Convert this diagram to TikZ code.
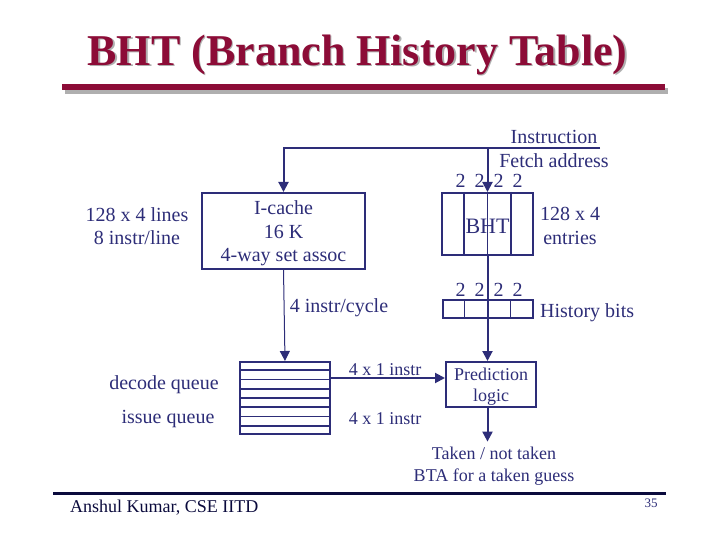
\documentclass[tikz,border=0pt]{standalone}
\usepackage{fontspec}
\setmainfont{Liberation Serif}
\usetikzlibrary{arrows.meta,calc}
\definecolor{ink}{RGB}{45,45,120}
\definecolor{titlered}{RGB}{140,12,55}
\definecolor{navy}{RGB}{10,10,60}
\definecolor{shadowgray}{RGB}{175,175,175}
\tikzset{
  txt/.style={text=ink, font=\fontsize{20}{23.5}\selectfont, inner sep=0pt, align=center},
  smalltxt/.style={text=ink, font=\fontsize{18}{22}\selectfont, inner sep=0pt, align=center},
  box/.style={draw=ink, line width=2pt, inner sep=0pt},
  arr/.style={-{Triangle[length=10pt,width=10pt]}, draw=ink, line width=2pt},
  thinarr/.style={-{Triangle[length=10pt,width=10pt]}, draw=ink, line width=1pt},
  conn/.style={draw=ink, line width=2pt},
  divider/.style={draw=ink, line width=1.6pt},
}
\begin{document}
\begin{tikzpicture}[x=1pt,y=-1pt]
\useasboundingbox (0,0) rectangle (720,540);
% title
\node[text=shadowgray, font=\fontsize{44}{50}\selectfont\bfseries, inner sep=0pt] (titleshadow) at (359,56) {BHT (Branch History Table)};
\node[text=titlered, font=\fontsize{44}{50}\selectfont\bfseries, inner sep=0pt] (title) at (357.5,54.5) {BHT (Branch History Table)};
\fill[shadowgray] (65,88) rectangle (668,94);
\fill[titlered] (62,84.5) rectangle (665,90.5);
% footer
\draw[navy, line width=3pt] (53,493) -- (666,493);
\node[text=navy, font=\fontsize{18}{20}\selectfont, anchor=west, inner sep=0pt] (author) at (70,507.5) {Anshul Kumar, CSE IITD};
\node[text=ink, font=\fontsize{13}{15}\selectfont, inner sep=0pt] (page) at (651,503.5) {35};

% boxes
\node[box, minimum width=163pt, minimum height=76pt] (icache) at (283.5,231) {};
\node[txt] (icachelabel) at (283.5,233.5) {I-cache\\16 K\\4-way set assoc};
\node[box, minimum width=91pt, minimum height=62pt] (bht) at (487.5,224) {};
\foreach \i in {1,2,3} {\draw[divider] ($(bht.north west)!\i/4!(bht.north east)$) -- ($(bht.south west)!\i/4!(bht.south east)$);}
\node[txt, font=\fontsize{22}{24}\selectfont] (bhtlabel) at (487.5,226) {BHT};
\node[box, minimum width=90pt, minimum height=18pt] (hist) at (487.5,309) {};
\foreach \i in {1,2,3} {\draw[divider] ($(hist.north west)!\i/4!(hist.north east)$) -- ($(hist.south west)!\i/4!(hist.south east)$);}
\node[box, minimum width=90pt, minimum height=72pt] (queue) at (285,398) {};
\foreach \i in {1,...,7} {\draw[divider] ($(queue.north west)!\i/8!(queue.south west)$) -- ($(queue.north east)!\i/8!(queue.south east)$);}
\node[box, minimum width=90pt, minimum height=45pt] (pred) at (491,384.5) {};
\node[smalltxt, font=\fontsize{18}{21}\selectfont] (predlabel) at (491,387) {Prediction\\logic};

% labels
\node[txt] (fetchlabel) at (554,149) {Instruction\\Fetch address};
\node[txt] (twostop) at (489,181) {2\hspace{9pt}2\hspace{9pt}2\hspace{9pt}2};
\node[txt] (entries) at (570,226) {128 x 4\\entries};
\node[txt] (twosmid) at (489,289.5) {2\hspace{9pt}2\hspace{9pt}2\hspace{9pt}2};
\node[txt, anchor=west] (histlabel) at (540,313) {History bits};
\node[txt] (cycle) at (339,307.5) {4 instr/cycle};
\node[txt] (lines) at (137,226) {128 x 4 lines\\8 instr/line};
\node[txt] (decode) at (164,385) {decode queue};
\node[txt] (issue) at (168,419) {issue queue};
\node[smalltxt] (onea) at (385,369.5) {4 x 1 instr};
\node[smalltxt] (oneb) at (385,419) {4 x 1 instr};
\node[smalltxt] (taken) at (494,466) {Taken / not taken\\BTA for a taken guess};

% connectors
\coordinate (fa) at (600,148);
\coordinate (junction) at (bht.north |- fa);
\coordinate (takentop) at ($(taken.north)+(0,-5)$);
\draw[arr] (fa) -| (icache.north);
\draw[arr] (junction) -- (bht.north);
\draw[conn] (bht.south) -- (hist.north);
\draw[arr] (hist.north) -- (hist.north |- pred.north);
\draw[thinarr] (icache.south) -- (queue.north);
\coordinate (qo) at ($(queue.north east)+(0,17)$);
\draw[arr] (qo) -- (qo -| pred.west);
\draw[arr] (hist.north |- pred.south) -- (hist.north |- takentop);
\end{tikzpicture}
\end{document}
